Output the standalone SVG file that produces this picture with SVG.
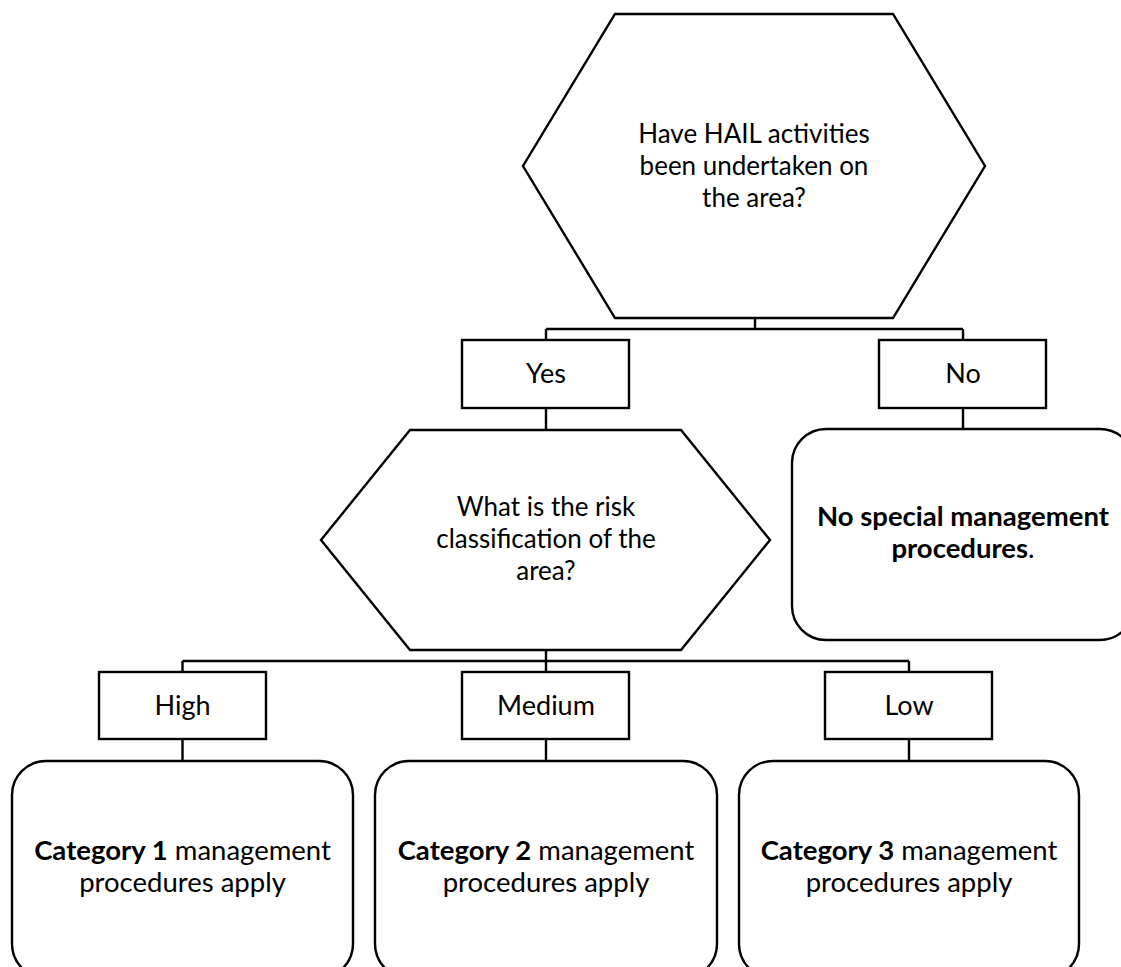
<svg xmlns="http://www.w3.org/2000/svg" width="1121" height="967" viewBox="0 0 1121 967">
<style>
.s{fill:#fff;stroke:#000;stroke-width:2.4}
.c{fill:none;stroke:#000;stroke-width:2.4}
text{font-family:Lato,"Liberation Sans",sans-serif;font-size:26px;fill:#000;text-anchor:middle}
.l{font-size:27px}
.r{font-size:27.5px}
.b{font-weight:bold}
</style>
<rect width="1121" height="967" fill="#fff"/>
<g id="connectors">
<path class="c" d="M755,318V329M546,329H963M546,329V340M963,329V340M546,408V430M963,408V429M546,650V672M182.5,661H909M182.5,661V672M909,661V672M182.5,739V761M546,739V761M909,739V761"/>
</g>
<g id="q1">
<polygon class="s" points="615,14 893,14 985,166 893,318 615,318 523,166"/>
<text x="754" y="143">Have HAIL activities</text>
<text x="754" y="175">been undertaken on</text>
<text x="754" y="207">the area?</text>
</g>
<g id="yes">
<rect class="s" x="462" y="340" width="167" height="68"/>
<text class="l" x="546" y="383">Yes</text>
</g>
<g id="no">
<rect class="s" x="879" y="340" width="167" height="68"/>
<text class="l" x="963" y="383">No</text>
</g>
<g id="none">
<rect class="s" x="792" y="429" width="342" height="211" rx="34"/>
<text x="963" y="526" class="r b">No special management</text>
<text x="963" y="558" class="r"><tspan class="b">procedures</tspan>.</text>
</g>
<g id="q2">
<polygon class="s" points="410,430 681,430 770,540 681,650 410,650 321,540"/>
<text x="546" y="516">What is the risk</text>
<text x="546" y="548">classification of the</text>
<text x="546" y="580">area?</text>
</g>
<g id="high">
<rect class="s" x="99" y="672" width="167" height="67"/>
<text class="l" x="182.5" y="715">High</text>
</g>
<g id="medium">
<rect class="s" x="462" y="672" width="167" height="67"/>
<text class="l" x="546" y="715">Medium</text>
</g>
<g id="low">
<rect class="s" x="825" y="672" width="167" height="67"/>
<text class="l" x="909" y="715">Low</text>
</g>
<g id="cat1">
<rect class="s" x="12" y="761" width="341" height="217" rx="34"/>
<text class="r" x="182.5" y="860"><tspan class="b">Category 1</tspan> management</text>
<text class="r" x="182.5" y="892">procedures apply</text>
</g>
<g id="cat2">
<rect class="s" x="375" y="761" width="342" height="217" rx="34"/>
<text class="r" x="546" y="860"><tspan class="b">Category 2</tspan> management</text>
<text class="r" x="546" y="892">procedures apply</text>
</g>
<g id="cat3">
<rect class="s" x="739" y="761" width="340" height="217" rx="34"/>
<text class="r" x="909" y="860"><tspan class="b">Category 3</tspan> management</text>
<text class="r" x="909" y="892">procedures apply</text>
</g>
</svg>
